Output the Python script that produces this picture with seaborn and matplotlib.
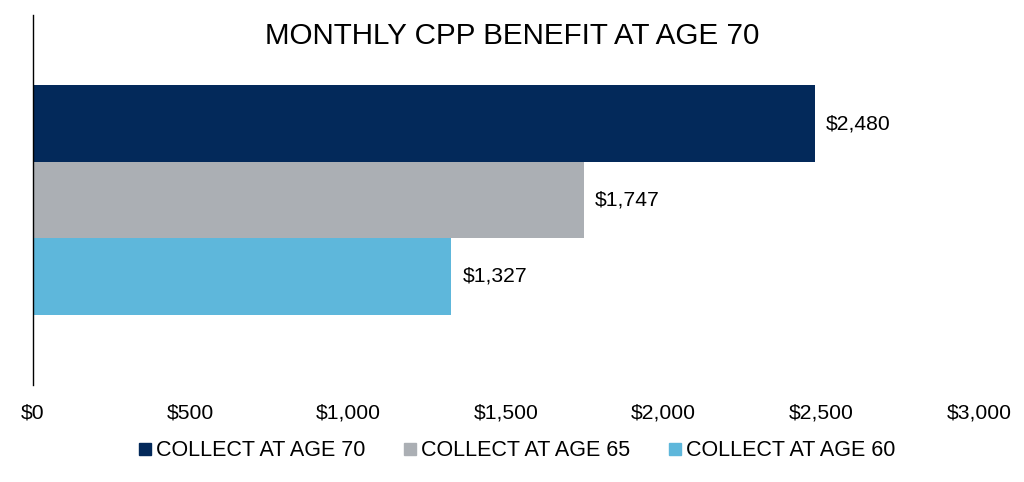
import matplotlib
matplotlib.use("Agg")
import matplotlib.pyplot as plt
from matplotlib.lines import Line2D
import pandas as pd
import seaborn as sns

# Data
series = ["COLLECT AT AGE 70", "COLLECT AT AGE 65", "COLLECT AT AGE 60"]
benefit = [2480, 1747, 1327]
colors = ["#03295A", "#ABAFB4", "#5EB7DB"]
tick_vals = [0, 500, 1000, 1500, 2000, 2500, 3000]

df = pd.DataFrame({"group": ["CPP"] * len(series), "series": series, "benefit": benefit})

sns.set_style("white")
plt.rcParams["font.family"] = ["Liberation Sans", "DejaVu Sans"]
plt.rcParams["text.color"] = "black"
plt.rcParams["xtick.color"] = "black"

fig = plt.figure(figsize=(10.24, 4.82), dpi=100)
ax = fig.add_axes([33 / 1024, 1 - 385 / 482, (979 - 33) / 1024, 370 / 482])

sns.barplot(data=df, x="benefit", y="group", hue="series", hue_order=series,
            palette=colors, orient="h", width=0.62, dodge=True, saturation=1,
            edgecolor="none", linewidth=0, legend=False, ax=ax)

for cont in ax.containers:
    ax.bar_label(cont, labels=[f"${v:,.0f}" for v in cont.datavalues],
                 padding=8, fontsize=15.2, color="black")

ax.set_xlim(0, 3000)
ax.set_ylim(0.5, -0.5)
ax.set_xticks(tick_vals)
ax.set_xticklabels([f"${v:,}" for v in tick_vals], fontsize=15.2)
ax.tick_params(axis="x", length=0, pad=13, colors="black")
ax.set_yticks([])
ax.set_xlabel("")
ax.set_ylabel("")
for s in ["top", "right", "bottom"]:
    ax.spines[s].set_visible(False)
ax.spines["left"].set_color("#000000")
ax.spines["left"].set_linewidth(1.0)

fig.text(0.5, 1 - 36 / 482, "MONTHLY CPP BENEFIT AT AGE 70", ha="center",
         va="center", fontsize=21.3, color="black")

handles = [Line2D([], [], marker="s", linestyle="none", markersize=8,
                  markerfacecolor=c, markeredgecolor=c) for c in colors]
fig.legend(handles, series, loc="center", bbox_to_anchor=(517 / 1024, 1 - 451 / 482),
           ncol=3, frameon=False, fontsize=15.5, handlelength=0.6,
           handletextpad=0.2, columnspacing=1.8, labelcolor="black")

fig.savefig("out.png", dpi=100)
